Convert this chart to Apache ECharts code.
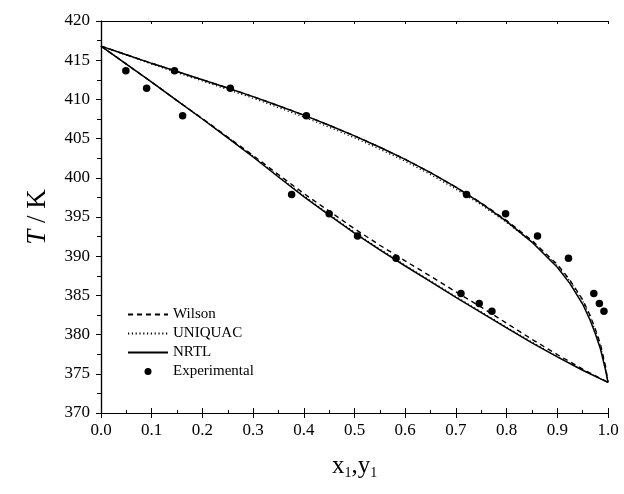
<!DOCTYPE html>
<html>
<head>
<meta charset="utf-8">
<script src="https://cdn.jsdelivr.net/npm/echarts@6/dist/echarts.min.js"></script>
<style>
  html, body { margin: 0; padding: 0; background: #fff; }
  #chart { width: 624px; height: 494px; }
</style>
</head>
<body>
<div id="chart"></div>
<script>
// Liquid-phase compositions (bubble-point curves)
const bubbleX = [0, 0.05, 0.1, 0.15, 0.2, 0.25, 0.3, 0.35, 0.4, 0.45, 0.5,
                 0.55, 0.6, 0.65, 0.7, 0.75, 0.8, 0.85, 0.9, 0.95, 1.0];
const wilsonBubbleT  = [416.8, 414.5, 412.2, 409.85, 407.55, 405.2, 402.85, 400.4, 398.0, 395.75, 393.5,
                        391.4, 389.4, 387.45, 385.45, 383.5, 381.45, 379.4, 377.45, 375.6, 373.9];
const uniquacBubbleT = [416.8, 414.5, 412.2, 409.85, 407.5, 405.15, 402.75, 400.2, 397.7, 395.35, 393.05,
                        390.9, 388.85, 386.85, 384.85, 382.9, 380.95, 379.05, 377.2, 375.5, 373.9];
const nrtlBubbleT    = [416.8, 414.5, 412.2, 409.85, 407.5, 405.1, 402.65, 400.1, 397.6, 395.25, 392.95,
                        390.8, 388.75, 386.75, 384.75, 382.8, 380.85, 378.95, 377.15, 375.45, 373.9];

// Vapour-phase compositions (dew-point curves)
const dewY = [0, 0.05, 0.1, 0.15, 0.2, 0.25, 0.3, 0.35, 0.4, 0.45, 0.5, 0.55, 0.6,
              0.65, 0.7, 0.75, 0.8, 0.85, 0.9, 0.925, 0.95, 0.965, 0.975, 0.985, 0.995, 1.0];
const wilsonDewT  = [416.8, 415.7, 414.6, 413.55, 412.5, 411.45, 410.35, 409.2, 408.0, 406.7, 405.35, 403.9, 402.35,
                     400.65, 398.8, 396.8, 394.55, 392.0, 388.95, 386.95, 384.45, 382.4, 380.7, 378.8, 376.0, 373.9];
const uniquacDewT = [416.8, 415.65, 414.5, 413.4, 412.35, 411.25, 410.15, 408.95, 407.75, 406.45, 405.1, 403.65, 402.1,
                     400.4, 398.55, 396.55, 394.3, 391.8, 388.8, 386.8, 384.3, 382.2, 380.5, 378.6, 375.8, 373.9];
const nrtlDewT    = [416.8, 415.7, 414.6, 413.55, 412.5, 411.45, 410.35, 409.2, 408.0, 406.7, 405.35, 403.9, 402.35,
                     400.65, 398.8, 396.75, 394.45, 391.8, 388.6, 386.5, 383.9, 381.8, 380.1, 378.2, 375.5, 373.9];

// Measured equilibrium data: T, liquid x1 and vapour y1
const expT = [413.66, 411.41, 407.91, 397.88, 395.40, 392.59, 389.75, 385.24, 383.96, 382.98];
const expX = [0.049, 0.090, 0.161, 0.376, 0.450, 0.506, 0.582, 0.710, 0.746, 0.771];
const expY = [0.145, 0.255, 0.405, 0.721, 0.798, 0.861, 0.922, 0.972, 0.983, 0.992];

const FONT = 'Liberation Serif';
const INK = '#000';

const pairs = (xs, ts) => xs.map((v, i) => [v, ts[i]]);

function curve(name, xs, ts, type, width) {
  return {
    name: name,
    type: 'line',
    data: pairs(xs, ts),
    symbol: 'none',
    smooth: false,
    lineStyle: { color: INK, width: width, type: type },
    itemStyle: { color: INK },
    z: 3
  };
}

const dashed = [5, 4];
const dotted = [1.2, 2.6];

const series = [
  curve('Wilson', bubbleX, wilsonBubbleT, dashed, 1.4),
  curve('Wilson', dewY, wilsonDewT, dashed, 1.4),
  curve('UNIQUAC', bubbleX, uniquacBubbleT, dotted, 1.2),
  curve('UNIQUAC', dewY, uniquacDewT, dotted, 1.2),
  curve('NRTL', bubbleX, nrtlBubbleT, 'solid', 1.5),
  curve('NRTL', dewY, nrtlDewT, 'solid', 1.5),
  {
    name: 'Experimental',
    type: 'scatter',
    data: pairs(expX, expT).concat(pairs(expY, expT)),
    symbol: 'circle',
    symbolSize: 7.5,
    itemStyle: { color: INK, opacity: 1 },
    z: 4
  }
];

const labelStyle = { color: INK, fontFamily: FONT, fontSize: 17 };
// line-only legend keys (the marker dot is hidden)
const lineKey = { color: 'transparent', borderWidth: 0 };

const option = {
  animation: false,
  backgroundColor: '#fff',
  grid: { left: 101, right: 16, top: 21, bottom: 81 },
  legend: {
    orient: 'vertical',
    left: 127,
    top: 307,
    padding: 0,
    itemWidth: 40,
    itemHeight: 7,
    itemGap: 4,
    textStyle: { color: INK, fontFamily: FONT, fontSize: 15, lineHeight: 14 },
    data: [
      { name: 'Wilson', itemStyle: lineKey },
      { name: 'UNIQUAC', itemStyle: lineKey },
      { name: 'NRTL', itemStyle: lineKey },
      { name: 'Experimental', icon: 'circle', itemStyle: { color: INK, opacity: 1 } }
    ]
  },
  xAxis: [
    {
      type: 'value', min: 0, max: 1, interval: 0.1, position: 'bottom',
      name: 'x{s|1},y{s|1}',
      nameLocation: 'middle',
      nameGap: 39,
      nameTextStyle: {
        color: INK, fontFamily: FONT, fontSize: 25,
        rich: { s: { fontFamily: FONT, fontSize: 14, color: INK, padding: [14, 0, 0, 0] } }
      },
      axisLine: { lineStyle: { color: INK, width: 1.2 } },
      axisTick: { inside: false, length: 5, lineStyle: { color: INK } },
      axisLabel: Object.assign({ margin: 9, formatter: v => v.toFixed(1) }, labelStyle),
      splitLine: { show: false }
    },
    {
      type: 'value', min: 0, max: 1, interval: 0.1, position: 'bottom',
      axisLine: { show: false },
      axisTick: { inside: true, length: 5, lineStyle: { color: INK } },
      minorTick: { show: true, splitNumber: 2, length: 3, lineStyle: { color: INK } },
      axisLabel: { show: false },
      splitLine: { show: false }
    },
    {
      type: 'value', min: 0, max: 1, interval: 0.1, position: 'top',
      axisLine: { lineStyle: { color: INK, width: 1.2 } },
      axisTick: { inside: true, length: 3, lineStyle: { color: INK } },
      axisLabel: { show: false },
      splitLine: { show: false }
    }
  ],
  yAxis: [
    {
      type: 'value', min: 370, max: 420, interval: 5, position: 'left',
      name: '{i|T} / K',
      nameLocation: 'middle',
      nameGap: 50,
      nameRotate: 90,
      nameTextStyle: {
        color: INK, fontFamily: FONT, fontSize: 27,
        rich: { i: { fontFamily: FONT, fontSize: 27, fontStyle: 'italic', color: INK } }
      },
      axisLine: { lineStyle: { color: INK, width: 1.2 } },
      axisTick: { inside: false, length: 5, lineStyle: { color: INK } },
      minorTick: { show: true, splitNumber: 2, length: 4, lineStyle: { color: INK } },
      axisLabel: Object.assign({ margin: 11 }, labelStyle),
      splitLine: { show: false }
    },
    {
      type: 'value', min: 370, max: 420, interval: 5, position: 'right',
      axisLine: { lineStyle: { color: INK, width: 1.2 } },
      axisTick: { inside: true, length: 3, lineStyle: { color: INK } },
      axisLabel: { show: false },
      splitLine: { show: false }
    }
  ],
  series: series
};

const chart = echarts.init(document.getElementById('chart'), null, { renderer: 'canvas' });
chart.setOption(option);
</script>
</body>
</html>
